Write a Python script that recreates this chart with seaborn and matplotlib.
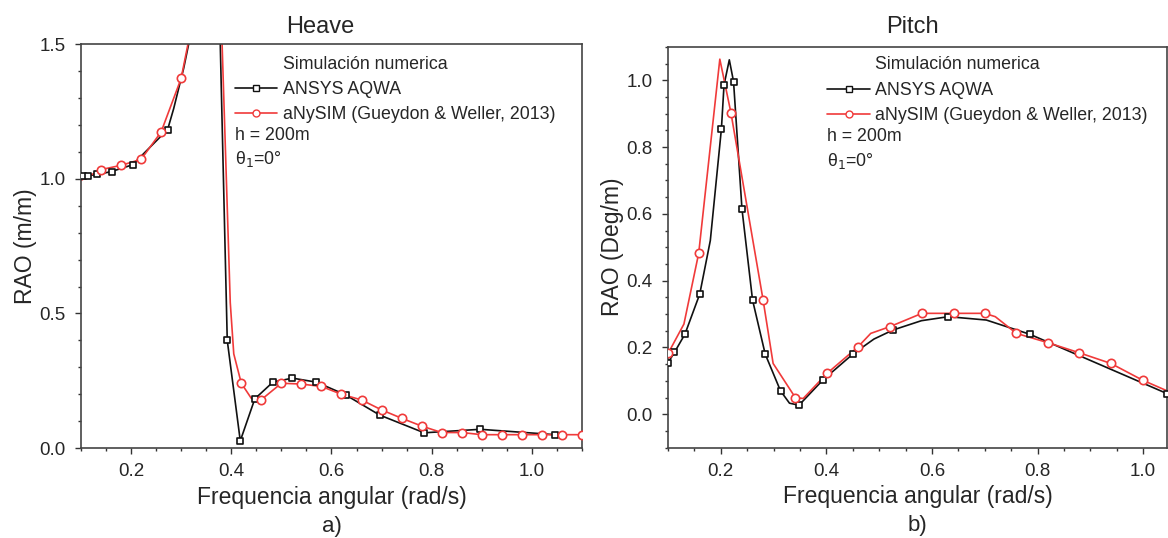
import matplotlib
matplotlib.use("Agg")
import matplotlib.pyplot as plt
from matplotlib.lines import Line2D
from matplotlib.ticker import MultipleLocator
import seaborn as sns
import pandas as pd

# Heave - ANSYS AQWA (mk = 1 where a marker is drawn)
heave_aqwa_x = [0.10, 0.105, 0.115, 0.133, 0.161, 0.203, 0.273, 0.285, 0.305, 0.315, 0.33, 0.355, 0.375,
                0.392, 0.418, 0.447, 0.483, 0.522, 0.57, 0.628, 0.696, 0.785, 0.897, 1.046]
heave_aqwa_y = [1.003, 1.009, 1.012, 1.016, 1.027, 1.052, 1.183, 1.26, 1.41, 1.50, 2.2, 2.6, 1.74,
                0.40, 0.027, 0.183, 0.245, 0.26, 0.245, 0.198, 0.123, 0.057, 0.07, 0.05]
heave_aqwa_mk = [0, 1, 1, 1, 1, 1, 1, 0, 0, 0, 0, 0, 0,
                 1, 1, 1, 1, 1, 1, 1, 1, 1, 1, 1]

# Heave - aNySIM
heave_any_x = [0.10, 0.14, 0.18, 0.22, 0.26, 0.30, 0.32, 0.35, 0.38, 0.398, 0.405, 0.42, 0.44,
               0.46, 0.50, 0.54, 0.58, 0.62, 0.66, 0.70, 0.74, 0.78, 0.82, 0.86, 0.90, 0.94,
               0.98, 1.02, 1.06, 1.10]
heave_any_y = [0.994, 1.034, 1.05, 1.072, 1.174, 1.373, 1.56, 2.6, 1.6, 0.54, 0.35, 0.241, 0.185,
               0.18, 0.241, 0.238, 0.229, 0.20, 0.179, 0.142, 0.111, 0.082, 0.058, 0.058, 0.05, 0.05,
               0.05, 0.05, 0.05, 0.05]
heave_any_mk = [0, 1, 1, 1, 1, 1, 0, 0, 0, 0, 0, 1, 0,
                1, 1, 1, 1, 1, 1, 1, 1, 1, 1, 1, 1, 1,
                1, 1, 1, 1]

# Pitch - ANSYS AQWA
pitch_aqwa_x = [0.099, 0.112, 0.132, 0.16, 0.18, 0.201, 0.206, 0.216, 0.224, 0.24, 0.26, 0.284,
                0.313, 0.33, 0.348, 0.393, 0.45, 0.49, 0.526, 0.58, 0.631, 0.703, 0.786, 1.045]
pitch_aqwa_y = [0.152, 0.185, 0.24, 0.36, 0.52, 0.854, 0.986, 1.061, 0.996, 0.614, 0.342, 0.18,
                0.07, 0.033, 0.027, 0.102, 0.18, 0.225, 0.252, 0.28, 0.292, 0.282, 0.239, 0.062]
pitch_aqwa_mk = [1, 1, 1, 1, 0, 1, 1, 0, 1, 1, 1, 1,
                 1, 0, 1, 1, 1, 0, 1, 0, 1, 0, 1, 1]

# Pitch - aNySIM
pitch_any_x = [0.10, 0.13, 0.158, 0.198, 0.219, 0.28, 0.299, 0.341, 0.356, 0.401, 0.46, 0.484,
               0.52, 0.581, 0.642, 0.70, 0.72, 0.76, 0.82, 0.879, 0.939, 0.999, 1.06]
pitch_any_y = [0.182, 0.27, 0.482, 1.063, 0.903, 0.342, 0.152, 0.05, 0.047, 0.122, 0.202, 0.242,
               0.262, 0.302, 0.302, 0.302, 0.292, 0.242, 0.214, 0.184, 0.152, 0.102, 0.06]
pitch_any_mk = [1, 0, 1, 0, 1, 1, 0, 1, 0, 1, 1, 0,
                1, 1, 1, 1, 0, 1, 1, 1, 1, 1, 0]

legend_labels = ["ANSYS AQWA", "aNySIM (Gueydon & Weller, 2013)"]
BLACK = "#111111"
RED = "#f03a3a"

sns.set_style("ticks")
plt.rcParams["font.family"] = ["Liberation Sans", "DejaVu Sans"]

fig = plt.figure(figsize=(11.68, 5.38), dpi=100)
ax1 = fig.add_axes([0.0693, 0.167, 0.429, 0.751])
ax2 = fig.add_axes([0.572, 0.168, 0.427, 0.745])


def draw(ax, xs, ys, mk, color, marker, size):
    df = pd.DataFrame({"x": xs, "y": ys, "mk": mk})
    sns.lineplot(data=df, x="x", y="y", ax=ax, color=color, lw=1.2, sort=False,
                 estimator=None, zorder=2)
    sub = df[df["mk"] == 1]
    sns.scatterplot(data=sub, x="x", y="y", ax=ax, marker=marker, s=size,
                    facecolor="white", edgecolor=color, linewidth=1.2, zorder=3)


def style(ax, ylim, ymaj, ymin, xlim, ylabel, tag, title, tx, ty, lx, rows):
    ax.set_xlim(*xlim)
    ax.set_ylim(*ylim)
    ax.xaxis.set_major_locator(MultipleLocator(0.2))
    ax.xaxis.set_minor_locator(MultipleLocator(0.05))
    ax.yaxis.set_major_locator(MultipleLocator(ymaj))
    ax.yaxis.set_minor_locator(MultipleLocator(ymin))
    ax.xaxis.set_major_formatter(lambda v, p: "" if v < 0.15 else f"{v:.1f}")
    ax.yaxis.set_major_formatter(lambda v, p: f"{v:.1f}")
    ax.tick_params(which="major", direction="out", length=4, width=1, labelsize=13.5,
                   pad=7, color="#333333")
    ax.tick_params(which="minor", direction="out", length=2.5, width=1, color="#333333")
    for s in ax.spines.values():
        s.set_linewidth(1.2)
        s.set_color("#444444")
    ax.set_xlabel("Frequencia angular (rad/s)", fontsize=16.5, labelpad=4)
    ax.set_ylabel(ylabel, fontsize=16.5, labelpad=1.5)
    ax.text(0.5, -0.195, tag, transform=ax.transAxes, ha="center", va="center", fontsize=16)
    ax.text(tx, ty, title, transform=ax.transAxes, ha="center", va="baseline", fontsize=17)
    handles = [
        Line2D([], [], color=BLACK, lw=1.2, marker="s", ms=4.5, mfc="white", mec=BLACK),
        Line2D([], [], color=RED, lw=1.2, marker="o", ms=5, mfc="white", mec=RED),
    ]
    ax.text(lx + 0.096, rows[0], "Simulación numerica", transform=ax.transAxes,
            ha="left", va="center", fontsize=12.8)
    ax.legend(handles, legend_labels, loc="upper left", bbox_to_anchor=(lx, rows[1] + 0.018),
              frameon=False, fontsize=12.8, handlelength=2.4, handletextpad=0.3,
              borderpad=0, borderaxespad=0, labelspacing=0.46)
    ax.text(lx, rows[3], "h = 200m", transform=ax.transAxes, ha="left", va="center",
            fontsize=12.8)
    ax.text(lx, rows[4], "θ$_1$=0°", transform=ax.transAxes, ha="left", va="center",
            fontsize=12.8)


draw(ax1, heave_aqwa_x, heave_aqwa_y, heave_aqwa_mk, BLACK, "s", 24)
draw(ax1, heave_any_x, heave_any_y, heave_any_mk, RED, "o", 36)
draw(ax2, pitch_aqwa_x, pitch_aqwa_y, pitch_aqwa_mk, BLACK, "s", 24)
draw(ax2, pitch_any_x, pitch_any_y, pitch_any_mk, RED, "o", 36)

style(ax1, (0, 1.5), 0.5, 0.1, (0.1, 1.1), "RAO (m/m)", "a)", "Heave", 0.477, 1.027,
      0.307, [0.950, 0.891, 0.832, 0.775, 0.715])
style(ax2, (-0.1, 1.1), 0.2, 0.05, (0.1, 1.045), "RAO (Deg/m)", "b)", "Pitch", 0.489, 1.035,
      0.319, [0.957, 0.894, 0.836, 0.776, 0.715])

fig.savefig("out.png", dpi=100)
